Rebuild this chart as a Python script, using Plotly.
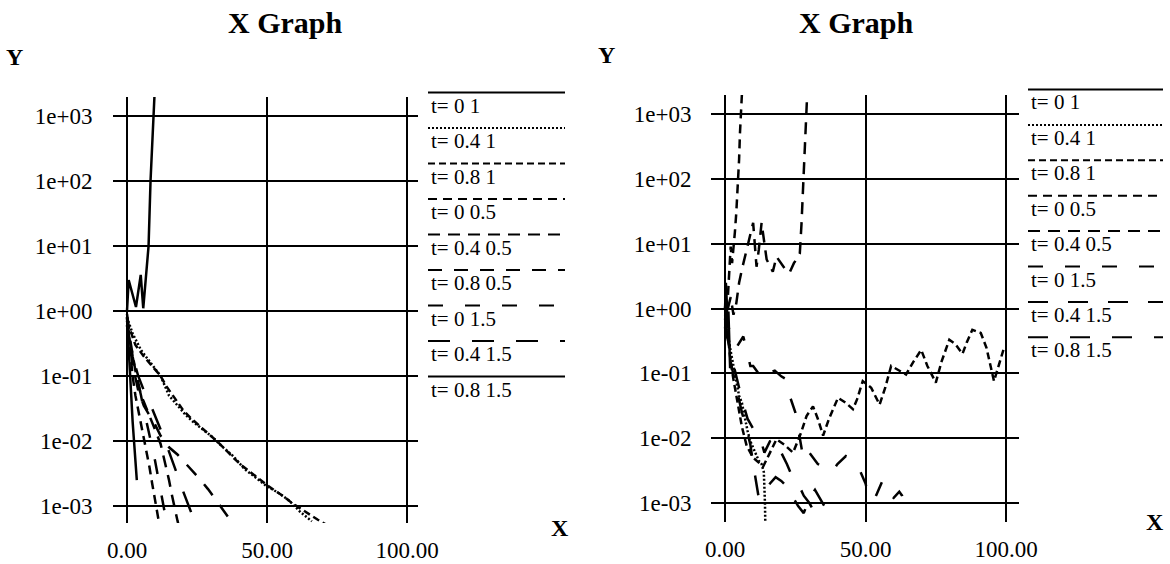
import plotly.graph_objects as go

W, H = 1170, 564

# ---------------- tick labels ----------------
x_tickvals = [0, 50, 100]
x_ticktext = ["0.00", "50.00", "100.00"]
y_tickvals = [1e-3, 1e-2, 1e-1, 1e0, 1e1, 1e2, 1e3]
y_ticktext = ["1e-03", "1e-02", "1e-01", "1e+00", "1e+01", "1e+02", "1e+03"]

# ---------------- left graph series ----------------
left_names = ["t= 0 1", "t= 0.4 1", "t= 0.8 1", "t= 0 0.5", "t= 0.4 0.5",
              "t= 0.8 0.5", "t= 0 1.5", "t= 0.4 1.5", "t= 0.8 1.5"]
left_dash = ["solid", "2px,2px", "7px,4px", "9px,6px", "12px,8px",
             "14px,12px", "15px,22px", "22px,22px", "solid"]

L_t0_1_x = [0, 0.6, 3.2, 4.9, 5.8, 6.8, 7.7, 8.4, 9.0, 9.4, 9.9]
L_t0_1_y = [1.0, 3.0, 1.15, 3.6, 1.1, 3.2, 10, 100, 400, 1000, 2500]
L_t04_1_x = [0, 2, 5, 8, 10, 12, 15, 18, 21, 24, 27, 30, 34, 38, 42, 46, 50, 54, 58, 62, 66]
L_t04_1_y = [0.8, 0.45, 0.25, 0.17, 0.13, 0.1, 0.05, 0.035, 0.025, 0.019, 0.015, 0.012,
             0.0082, 0.0058, 0.0037, 0.0027, 0.002, 0.0016, 0.0012, 0.0008, 0.00058]
L_t08_1_x = [0, 3, 6, 9, 12, 14, 17, 20, 23, 26, 29, 32, 35, 38, 41, 44, 47, 50, 53, 56,
             59, 62, 65, 68, 71]
L_t08_1_y = [0.7, 0.3, 0.2, 0.14, 0.1, 0.07, 0.045, 0.03, 0.022, 0.017, 0.013, 0.01,
             0.0075, 0.0055, 0.0042, 0.0033, 0.0026, 0.0021, 0.0017, 0.0014, 0.0011,
             0.0009, 0.00075, 0.00062, 0.00052]
L_t0_05_x = [0, 1, 2, 3, 4, 5, 6, 7, 8, 9, 10, 11, 12]
L_t0_05_y = [0.8, 0.3, 0.1, 0.05, 0.03, 0.02, 0.012, 0.007, 0.004, 0.0022, 0.0012,
             0.0007, 0.0004]
L_t04_05_x = [0, 1, 2, 3, 4, 5, 6, 8, 10, 12, 13, 14, 15, 16, 17, 18, 19]
L_t04_05_y = [0.7, 0.4, 0.2, 0.12, 0.08, 0.05, 0.04, 0.025, 0.015, 0.009, 0.006, 0.004,
              0.0025, 0.0015, 0.0009, 0.0006, 0.0004]
L_t08_05_x = [0, 2, 4, 6, 8, 10, 12, 15, 18, 20, 23, 26, 29, 32, 35, 37]
L_t08_05_y = [0.6, 0.15, 0.06, 0.035, 0.025, 0.018, 0.012, 0.008, 0.0062, 0.005, 0.0035,
              0.0026, 0.0018, 0.0012, 0.0008, 0.0006]
L_t0_15_x = [0, 1, 2, 3, 4, 5, 6, 7, 8, 9, 10, 11, 12, 13, 14]
L_t0_15_y = [0.9, 0.4, 0.2, 0.12, 0.08, 0.05, 0.03, 0.02, 0.012, 0.008, 0.005, 0.003,
             0.0018, 0.001, 0.0006]
L_t04_15_x = [0, 2, 4, 6, 8, 10, 12, 14, 16, 18, 20, 22, 24]
L_t04_15_y = [0.6, 0.2, 0.1, 0.06, 0.04, 0.025, 0.015, 0.009, 0.005, 0.003, 0.0017,
              0.001, 0.0006]
L_t08_15_x = [0, 0.5, 1, 1.5, 2, 2.5, 3, 3.5]
L_t08_15_y = [0.8, 0.3, 0.1, 0.05, 0.02, 0.01, 0.005, 0.0025]

# ---------------- right graph series ----------------
right_names = ["t= 0 1", "t= 0.4 1", "t= 0.8 1", "t= 0 0.5", "t= 0.4 0.5",
               "t= 0 1.5", "t= 0.4 1.5", "t= 0.8 1.5"]
right_dash = ["solid", "2px,2px", "7px,4px", "9px,6px", "12px,8px",
              "15px,22px", "20px,20px", "20px,22px"]

R_t0_1_x = [0, 0.3, 0.6, 0.9, 1.2, 1.5, 1.8]
R_t0_1_y = [1.0, 2.5, 1.3, 0.5, 0.9, 0.3, 0.12]
R_t04_1_x = [0, 1, 2, 3, 4, 5, 6, 7, 8, 9, 10, 11, 12, 13, 13.8, 14.2, 14.4]
R_t04_1_y = [1.0, 0.4, 0.22, 0.13, 0.07, 0.045, 0.035, 0.02, 0.013, 0.009, 0.007,
             0.0055, 0.0045, 0.004, 0.003, 0.001, 0.0003]
R_t08_1_x = [0, 1, 2, 3, 4, 5, 6, 7.7, 10, 12, 13.6, 16, 18.3, 21, 24.2, 27, 29, 31.3,
             33, 34.9, 37, 40.2, 43, 45.5, 47, 49, 52, 55, 57, 59.1, 62, 64.4, 67, 69.8,
             72, 75, 77, 79.8, 82, 84.5, 86, 88, 91, 93, 95.7, 97, 99.3]
R_t08_1_y = [1.0, 0.35, 0.15, 0.08, 0.045, 0.025, 0.015, 0.0076, 0.005, 0.0042, 0.0037,
             0.006, 0.0096, 0.008, 0.006, 0.012, 0.022, 0.031, 0.02, 0.011, 0.02, 0.042,
             0.035, 0.028, 0.04, 0.076, 0.06, 0.033, 0.06, 0.13, 0.11, 0.096, 0.15, 0.23,
             0.13, 0.072, 0.15, 0.33, 0.28, 0.2, 0.3, 0.47, 0.42, 0.25, 0.076, 0.12, 0.25]
R_t0_05_x = [0, 0.5, 1, 1.5, 2, 2.5, 3, 3.5, 4, 4.5, 5, 5.3, 5.6, 5.9, 6.2]
R_t0_05_y = [1.0, 2.0, 1.5, 4.0, 9.0, 5.0, 8.0, 15, 30, 70, 200, 500, 900, 1800, 3000]
R_t04_05_x = [0, 1, 2, 3, 4, 5, 6, 7, 8, 9, 10, 11.2, 12, 13, 14, 14.8, 16, 17, 18.3, 20,
              21.5, 23, 24.5, 26, 26.6, 27.2, 27.8, 28.4, 29, 29.4]
R_t04_05_y = [0.5, 1.0, 1.5, 0.8, 1.2, 2.5, 4.0, 6.0, 9.0, 15, 21, 4.4, 8.0, 21, 10, 5.7,
              4.5, 3.7, 6.3, 5.0, 4.0, 3.6, 5.0, 6.3, 7.0, 20, 80, 300, 1200, 3000]
R_t0_15_x = [0, 2, 4, 6.5, 8, 9, 10, 12, 13.5, 15, 17.7, 20, 22, 23, 25, 27, 28, 30, 33,
             36, 38, 40, 43, 45, 47, 50, 51, 53, 55, 56, 57, 60, 62, 63, 64]
R_t0_15_y = [0.8, 0.4, 0.25, 0.37, 0.2, 0.13, 0.13, 0.1, 0.08, 0.1, 0.11, 0.09, 0.08,
             0.045, 0.025, 0.008, 0.0045, 0.006, 0.004, 0.0035, 0.003, 0.004, 0.0053,
             0.0048, 0.004, 0.002, 0.0013, 0.0011, 0.0018, 0.0022, 0.0015, 0.0012,
             0.0015, 0.0013, 0.001]
R_t04_15_x = [0, 2, 4, 6, 8, 9, 10, 11, 12, 14, 16, 18, 20, 22, 24, 26, 28, 30, 32, 34,
              36, 38, 40]
R_t04_15_y = [0.7, 0.15, 0.06, 0.025, 0.012, 0.008, 0.004, 0.002, 0.0012, 0.0015, 0.002,
              0.0025, 0.0022, 0.0018, 0.0013, 0.0009, 0.0007, 0.0012, 0.0016, 0.0011,
              0.0008, 0.0006, 0.0004]
R_t08_15_x = [0, 2, 4, 6, 8, 10, 12, 14, 16, 18, 20, 22, 24, 26, 28, 30, 32]
R_t08_15_y = [0.5, 0.2, 0.09, 0.04, 0.02, 0.014, 0.012, 0.006, 0.009, 0.01, 0.006, 0.004,
              0.0025, 0.002, 0.0013, 0.001, 0.0007]

left_series = [(L_t0_1_x, L_t0_1_y), (L_t04_1_x, L_t04_1_y), (L_t08_1_x, L_t08_1_y),
               (L_t0_05_x, L_t0_05_y), (L_t04_05_x, L_t04_05_y), (L_t08_05_x, L_t08_05_y),
               (L_t0_15_x, L_t0_15_y), (L_t04_15_x, L_t04_15_y), (L_t08_15_x, L_t08_15_y)]
right_series = [(R_t0_1_x, R_t0_1_y), (R_t04_1_x, R_t04_1_y), (R_t08_1_x, R_t08_1_y),
                (R_t0_05_x, R_t0_05_y), (R_t04_05_x, R_t04_05_y), (R_t0_15_x, R_t0_15_y),
                (R_t04_15_x, R_t04_15_y), (R_t08_15_x, R_t08_15_y)]

SERIF = "Liberation Serif, Times New Roman, serif"


def px(x):
    return x / W


def py(y):
    return 1 - y / H


fig = go.Figure()
for (xs, ys), name, dash in zip(left_series, left_names, left_dash):
    fig.add_trace(go.Scatter(x=xs, y=ys, mode="lines", name=name, xaxis="x", yaxis="y",
                             line=dict(color="black", width=2.5, dash=dash),
                             showlegend=False))
for (xs, ys), name, dash in zip(right_series, right_names, right_dash):
    fig.add_trace(go.Scatter(x=xs, y=ys, mode="lines", name=name, xaxis="x2", yaxis="y2",
                             line=dict(color="black", width=2.5, dash=dash),
                             showlegend=False))

axis_common = dict(showline=False, zeroline=False, showgrid=True, automargin=False,
                   gridcolor="black", gridwidth=2, ticks="outside",
                   tickcolor="rgba(0,0,0,0)",
                   tickfont=dict(family=SERIF, size=23, color="black"))

fig.update_layout(
    width=W, height=H, autosize=False,
    margin=dict(l=0, r=0, t=0, b=0, pad=0, autoexpand=False),
    paper_bgcolor="white", plot_bgcolor="white",
    xaxis=dict(domain=[px(113), px(418)], range=[-5, 103.9], anchor="y", ticklen=6,
               tickvals=x_tickvals, ticktext=x_ticktext, **axis_common),
    yaxis=dict(domain=[py(523), py(97)], type="log", range=[-3.262, 3.292], anchor="x",
               ticklen=15, tickvals=y_tickvals, ticktext=y_ticktext, **axis_common),
    xaxis2=dict(domain=[px(711), px(1019)], range=[-5, 104.6], anchor="y2", ticklen=6,
                tickvals=x_tickvals, ticktext=x_ticktext, **axis_common),
    yaxis2=dict(domain=[py(522), py(95)], type="log", range=[-3.292, 3.292], anchor="x2",
                ticklen=14, tickvals=y_tickvals, ticktext=y_ticktext, **axis_common),
)

annotations = []
shapes = []
# titles and axis letters
for (tx, ty, txt, size) in [(285, 22, "X Graph", 30), (856, 22, "X Graph", 30),
                            (14, 57, "Y", 24), (606, 55, "Y", 24),
                            (560, 528, "X", 24), (1155, 522, "X", 24)]:
    annotations.append(dict(x=px(tx), y=py(ty), xref="paper", yref="paper",
                            text=f"<b>{txt}</b>", showarrow=False,
                            xanchor="center", yanchor="middle",
                            font=dict(family=SERIF, size=size, color="black")))

# custom legends: line sample above each label
for names, dashes, x0, x1, y0, step in [(left_names, left_dash, 428, 565, 92.5, 35.5),
                                        (right_names, right_dash, 1028, 1163, 89.5, 35.4)]:
    for i, (name, dash) in enumerate(zip(names, dashes)):
        ly = y0 + i * step
        shapes.append(dict(type="line", xref="paper", yref="paper",
                           x0=px(x0), x1=px(x1), y0=py(ly), y1=py(ly),
                           line=dict(color="black", width=2, dash=dash)))
        annotations.append(dict(x=px(x0 + 1), y=py(ly + 13), xref="paper", yref="paper",
                                text=name, showarrow=False, xanchor="left", yanchor="middle",
                                font=dict(family=SERIF, size=21, color="black")))

fig.update_layout(annotations=annotations, shapes=shapes)

fig.write_html("out.html", config={"displayModeBar": False},
               post_script="document.body.style.margin='0';document.body.style.overflow='hidden';")
